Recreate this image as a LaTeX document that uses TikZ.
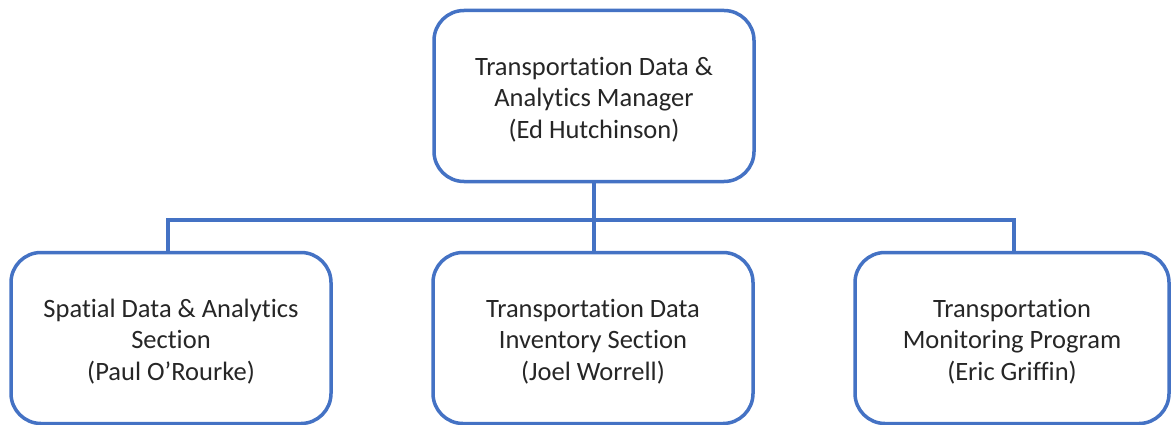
\documentclass[tikz,border=0pt]{standalone}
\usepackage{fontspec}
\setmainfont{Carlito}[Ligatures=NoCommon]
\definecolor{orgblue}{HTML}{4472C4}
\definecolor{orgtext}{HTML}{262626}
\begin{document}
\begin{tikzpicture}[x=1pt,y=-1pt,
  unit/.style={draw=orgblue, line width=3.5pt, rounded corners=30pt, fill=white,
    minimum width=320pt, minimum height=171pt, align=center, text=orgtext,
    font=\fontsize{26.5}{31.5}\selectfont, inner sep=0pt, text height=88pt},
  link/.style={draw=orgblue, line width=3.5pt}]
  \useasboundingbox (0,0) rectangle (1172,425);
  % manager
  \node[unit] (mgr) at (594,96) {Transportation Data \&\\Analytics Manager\\(Ed Hutchinson)};
  % sections
  \node[unit] (spatial) at (171,338) {Spatial Data \& Analytics\\Section\\(Paul O’Rourke)};
  \node[unit] (inventory) at (593,338) {Transportation Data\\Inventory Section\\(Joel Worrell)};
  \node[unit, minimum width=314pt] (monitor) at (1012,338) {Transportation\\Monitoring Program\\(Eric Griffin)};
  % reporting lines
  \coordinate (bus) at (594,220);
  \draw[link] (mgr.south) -- (mgr.south |- bus);
  \draw[link] (spatial.north -| 168,0) -- (168,220) -- (1014,220) -- (monitor.north -| 1014,0);
  \draw[link] (mgr.south |- bus) -- (inventory.north -| mgr.south);
\end{tikzpicture}
\end{document}
